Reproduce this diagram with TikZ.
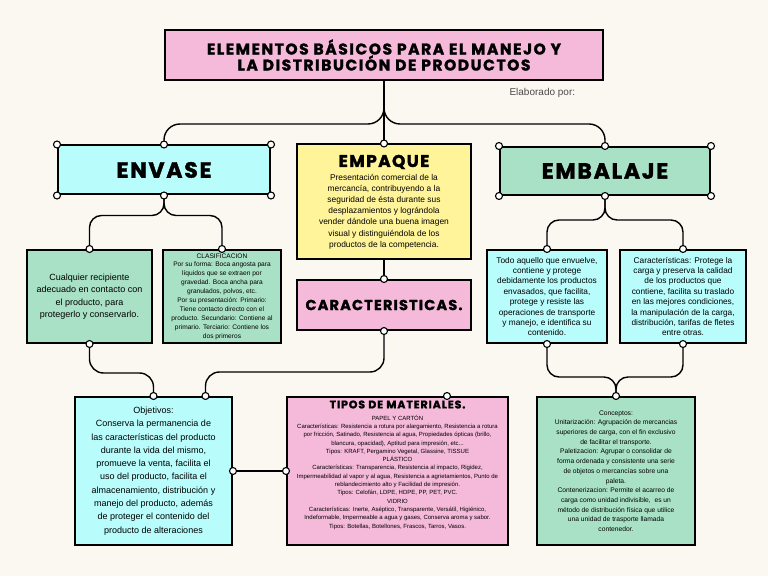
\documentclass[tikz,border=0pt]{standalone}
\usepackage{fontspec}
\setmainfont{Liberation Sans}
\newfontfamily\headfont{Poppins}[LetterSpace=8, BoldFeatures={FakeBold=1.6}]
\newfontfamily\titlefont{Poppins}[LetterSpace=10, BoldFeatures={FakeBold=1.6}]
\usetikzlibrary{positioning, calc}

\definecolor{paper}{HTML}{FBF8F2}
\definecolor{rosa}{HTML}{F5B9DA}
\definecolor{celeste}{HTML}{B8FCFC}
\definecolor{amarillo}{HTML}{FFF49A}
\definecolor{menta}{HTML}{A9E1C6}

\begin{document}
\begin{tikzpicture}[
    x=1pt, y=1pt,
    % Define styles for the different node types
    box/.style={rectangle, draw=black, line width=2pt, text centered, align=center, inner sep=2pt},
    pinkbox/.style={box, fill=rosa},
    cyanbox/.style={box, fill=celeste},
    yellowbox/.style={box, fill=amarillo},
    greenbox/.style={box, fill=menta},
    link/.style={draw=black, line width=1.4pt},
    knob/.style={circle, draw=black, fill=white, line width=1.1pt, inner sep=0pt, minimum size=7pt},
]

% page background
\fill[paper] (0,0) rectangle (768,576);
\useasboundingbox (0,0) rectangle (768,576);

% -------------------------
% Level 0 and 1
% -------------------------
\node (title) [pinkbox, minimum width=438, minimum height=50, font=\titlefont\bfseries\fontsize{15.5}{16}\selectfont] at (384,521)
    {ELEMENTOS BÁSICOS PARA EL MANEJO Y\\LA DISTRIBUCIÓN DE PRODUCTOS};
\node (autor) [anchor=west, text=black!70, font=\fontsize{10}{11}\selectfont] at (506,483) {Elaborado por:};

\node (envase) [cyanbox, minimum width=212, minimum height=49, font=\headfont\bfseries\fontsize{22}{24}\selectfont] at (164,406) {ENVASE};
\node (empaque) [yellowbox, minimum width=174, minimum height=115, font=\fontsize{8.4}{11.2}\selectfont] at (384,374)
    {{\headfont\bfseries\fontsize{17}{18}\selectfont EMPAQUE}\\[2pt]
     Presentación comercial de la\\mercancía, contribuyendo a la\\seguridad de ésta durante sus\\desplazamientos y lográndola\\vender dándole una buena imagen\\visual y distinguiéndola de los\\productos de la competencia.};
\node (embalaje) [greenbox, minimum width=210, minimum height=48, font=\headfont\bfseries\fontsize{22}{24}\selectfont] at (605,405) {EMBALAJE};
\node (caract) [pinkbox, minimum width=174, minimum height=50, font=\headfont\bfseries\fontsize{14.5}{16}\selectfont] at (384,271) {CARACTERISTICAS.};

% -------------------------
% Level 2
% -------------------------
\node (envA) [greenbox, minimum width=125, minimum height=93, font=\fontsize{9}{12.5}\selectfont] at (89.5,279.5)
    {Cualquier recipiente\\adecuado en contacto con\\el producto, para\\protegerlo y conservarlo.};
\node (envB) [greenbox, minimum width=118, minimum height=93, font=\fontsize{6.6}{8.9}\selectfont] at (222,279.5)
    {CLASIFICACION\\Por su forma: Boca angosta para\\líquidos que se extraen por\\gravedad. Boca ancha para\\granulados, polvos, etc.\\Por su presentación: Primario:\\Tiene contacto directo con el\\producto. Secundario: Contiene al\\primario. Terciario: Contiene los\\dos primeros};
\node (embC) [cyanbox, minimum width=120, minimum height=93, font=\fontsize{8.3}{10.4}\selectfont] at (547,279.5)
    {Todo aquello que envuelve,\\contiene y protege\\debidamente los productos\\envasados, que facilita,\\protege y resiste las\\operaciones de transporte\\y manejo, e identifica su\\contenido.};
\node (embD) [cyanbox, minimum width=126, minimum height=93, font=\fontsize{8.3}{10.4}\selectfont] at (683,279.5)
    {Características: Protege la\\carga y preserva la calidad\\de los productos que\\contiene, facilita su traslado\\en las mejores condiciones,\\la manipulación de la carga,\\distribución, tarifas de fletes\\entre otras.};

% -------------------------
% Level 3
% -------------------------
\node (obj) [cyanbox, minimum width=157, minimum height=148, font=\fontsize{9}{13.3}\selectfont] at (153.5,105)
    {Objetivos:\\Conserva la permanencia de\\las características del producto\\durante la vida del mismo,\\promueve la venta, facilita el\\uso del producto, facilita el\\almacenamiento, distribución y\\manejo del producto, además\\de proteger el contenido del\\producto de alteraciones};
\node (tipos) [pinkbox, minimum width=221, minimum height=148] at (397.5,105) {};
\node (tipostxt) [below=1pt of tipos.north, align=center, font=\fontsize{6}{8.3}\selectfont]
    {{\headfont\bfseries\fontsize{11}{12}\selectfont TIPOS DE MATERIALES.}\\[3.5pt]
     PAPEL Y CARTÓN\\
     Características: Resistencia a rotura por alargamiento, Resistencia a rotura\\
     por fricción, Satinado, Resistencia al agua, Propiedades ópticas (brillo,\\
     blancura, opacidad), Aptitud para impresión, etc...\\
     Tipos: KRAFT, Pergamino Vegetal, Glassine, TISSUE\\
     PLÁSTICO\\
     Características: Transparencia, Resistencia al impacto, Rigidez,\\
     Impermeabilidad al vapor y al agua, Resistencia a agrietamientos, Punto de\\
     reblandecimiento alto y Facilidad de impresión.\\
     Tipos: Celofán, LDPE, HDPE, PP, PET, PVC.\\
     VIDRIO\\
     Características: Inerte, Aséptico, Transparente, Versátil, Higiénico,\\
     Indeformable, Impermeable a agua y gases, Conserva aroma y sabor.\\
     Tipos: Botellas, Botellones, Frascos, Tarros, Vasos.};
\node (conc) [greenbox, minimum width=158, minimum height=148, font=\fontsize{6.7}{9.7}\selectfont] at (616,105)
    {Conceptos:\\Unitarización: Agrupación de mercancias\\superiores de carga, con el fin exclusivo\\de facilitar el transporte.\\Paletizacion: Agrupar o consolidar de\\forma ordenada y consistente una serie\\de objetos o mercancías sobre una\\paleta.\\Contenerizacion: Permite el acarreo de\\carga como unidad indivisible,\ \ es un\\método de distribución física que utilice\\una unidad de trasporte llamada\\contenedor.};

% -------------------------
% Connections
% -------------------------
\coordinate (topsplit) at (384,452);
\draw[link, rounded corners=16pt] (title.south) -- (topsplit) -| (envase.north);
\draw[link, rounded corners=16pt] (title.south) -- (topsplit) -| (embalaje.north);
\draw[link] (title.south) -- (empaque.north);
\draw[link] (empaque.south) -- (caract.north);

% envase branches
\coordinate (envsplit) at ($(envase.south)+(0,-20)$);
\draw[link, rounded corners=12pt] (envase.south) -- (envsplit) -| (envA.north);
\draw[link, rounded corners=12pt] (envase.south) -- (envsplit) -| (envB.north);

% embalaje branches
\coordinate (embsplit) at ($(embalaje.south)+(0,-24)$);
\draw[link, rounded corners=12pt] (embalaje.south) -- (embsplit) -| (embC.north);
\draw[link, rounded corners=12pt] (embalaje.south) -- (embsplit) -| (embD.north);

% down to objetivos
\coordinate (objknob) at ($(obj.north)+(52,0)$);
\coordinate (objbend) at ($(obj.north)+(0,23)$);
\draw[link, rounded corners=14pt] (envA.south) |- (objbend) -- (obj.north);
\coordinate (carbend) at ($(caract.south)+(0,-41)$);
\draw[link, rounded corners=14pt] (objknob) |- (carbend) -- (caract.south);
\draw[link] (obj.east) -- (tipos.west);

% merge into conceptos
\coordinate (concmerge) at ($(conc.north)+(0,19)$);
\draw[link, rounded corners=12pt] (embC.south) |- (concmerge) -- (conc.north);
\draw[link, rounded corners=12pt] (embD.south) |- (concmerge) -- (conc.north);

% connector ends
\coordinate (tiposknob) at ($(tipos.north)+(49.5,0)$);
\foreach \k [count=\i] in {envase.north west, envase.north, envase.north east,
    envase.south west, envase.south, envase.south east,
    embalaje.north west, embalaje.north, embalaje.north east,
    embalaje.south west, embalaje.south, embalaje.south east,
    empaque.north, caract.north, caract.south,
    envA.north, envA.south, envB.north,
    embC.north, embC.south, embD.north, embD.south,
    obj.north, objknob, obj.east, tipos.west, tiposknob, conc.north}
    \node (knob\i) [knob] at (\k) {};

\end{tikzpicture}
\end{document}
